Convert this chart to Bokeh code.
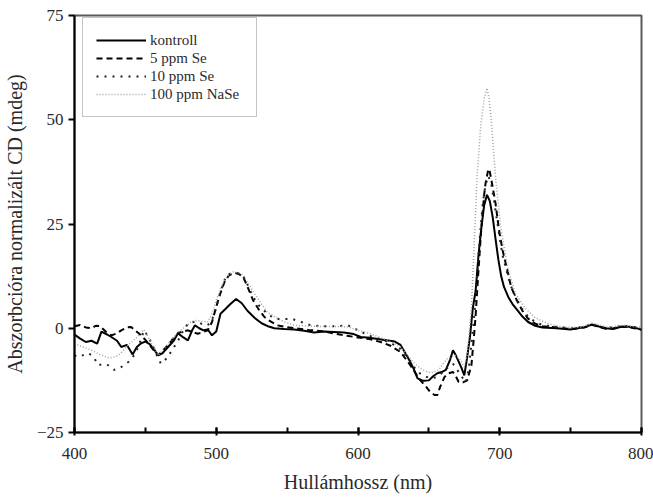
from bokeh.plotting import figure
from bokeh.models import Legend, LegendItem, SingleIntervalTicker, Range1d
from bokeh.embed import file_html
from bokeh.resources import INLINE

# ---- data ----
wl_kontroll = [400,404,408,412,416,419,423,426,430,433,437,441,444,447,450,453,456,459,462,466,
               470,473,476,480,483,485,488,491,494,497,500,503,507,510,514,518,522,527,532,537,
               541,548,555,562,569,576,583,590,597,602,608,614,620,626,630,635,639,642,646,650,
               653,656,659,662,665,667,669,671,673,675,677,679,681,683,685,687,689,691,693,695,
               697,699,701,703,706,709,712,716,720,725,730,740,750,760,765,770,775,780,785,790,
               795,800]
cd_kontroll = [-1.5,-2.5,-3.3,-3.0,-3.7,-0.8,-1.5,-2.1,-3.0,-4.5,-4.0,-6.3,-4.5,-3.6,-3.2,-3.8,-5.0,-6.5,-6.0,-4.5,
               -3.0,-1.2,-2.0,-2.9,-0.5,0.7,0.0,-0.5,-0.3,-1.7,-0.8,3.5,4.8,5.8,7.0,6.0,4.2,2.5,1.2,0.4,
               0.0,-0.2,-0.3,-0.6,-1.0,-0.8,-0.9,-1.0,-1.4,-2.1,-2.3,-2.6,-2.9,-3.2,-4.0,-6.9,-9.5,-12.0,-12.6,-12.5,
               -11.5,-10.8,-10.5,-10.0,-7.5,-5.3,-6.5,-8.0,-9.5,-11.3,-7.0,-2.0,4.8,9.0,17.5,24.0,29.5,32.0,30.5,26.7,
               21.5,16.5,12.5,9.9,7.5,5.8,4.5,2.8,1.5,0.6,0.2,0.0,-0.3,0.3,0.9,0.4,0.0,-0.2,0.3,0.4,
               0.2,-0.4]

wl_5ppm = [400,404,408,412,415,418,422,426,430,433,437,440,443,447,450,453,456,459,462,466,
           470,473,476,480,484,487,490,494,497,499,502,505.7,509,513,516,519,522,526,530,534,
           538,543,549,555,565,575,590,600,608,616,623,630,637,641,644,648,651,654,656,658,
           661,664,667,669,671,674,677,680,682,683,685,687,689,690,692,693,695,697,699.5,702,
           705.4,708,712,716,720,725,730,740,750,760,765,770,775,780,785,790,795,800]
cd_5ppm = [0.5,0.8,0.2,0.0,0.6,0.5,-0.8,-1.7,-1.2,-0.5,0.2,0.3,-0.6,-1.7,-2.8,-4.0,-5.3,-6.5,-5.5,-4.0,
           -2.3,-1.2,-0.8,-0.5,-1.0,-1.3,-1.0,-0.5,1.5,3.9,7.5,11.0,12.7,13.3,13.0,12.3,10.0,6.7,4.5,2.7,
           1.7,0.7,0.3,0.0,-0.4,-0.7,-1.7,-2.2,-2.6,-3.3,-4.2,-5.7,-8.9,-11.0,-12.5,-14.0,-15.3,-16.0,-16.0,-14.0,
           -11.7,-10.8,-10.5,-11.5,-12.9,-13.0,-12.5,-8.9,-1.2,3.1,14.0,24.0,32.0,34.8,38.2,37.5,33.9,30.0,23.5,18.7,
           13.9,9.9,6.7,4.2,2.3,1.1,0.5,0.2,-0.2,0.2,0.8,0.3,-0.1,0.0,0.4,0.3,0.0,-0.3]

wl_10ppm = [400,403,407,410,413,417,420,424,428,433,438,442,445,449,452,455,458,461,466,469,
            472,476,480,484,487,490,494,497,499,502,505.7,509,513,516,519,522,526,530,536,540,
            545,553,560,566,573,586,593,600,608,616,623,630,637,642,647,651,655,659,663,667,
            670,673,676,678,680,682,684,686,688,690,692,694,696,698,700,702,705,708,712,716,
            720,725,730,740,750,760,765,770,775,780,785,790,795,800]
cd_10ppm = [-6.5,-6.9,-6.3,-6.0,-6.7,-8.9,-8.5,-8.9,-10.0,-9.3,-8.1,-6.5,-4.5,-0.5,-2.0,-4.0,-6.5,-8.5,-6.9,-5.0,
            -3.7,-1.0,1.1,1.5,1.5,1.0,0.7,2.0,3.9,7.5,11.5,13.0,13.3,13.2,12.5,10.5,7.5,5.5,3.5,2.6,
            2.1,2.3,1.5,0.8,0.5,0.5,0.7,-0.5,-1.8,-2.6,-3.5,-5.0,-8.0,-10.5,-11.5,-12.0,-11.8,-10.8,-9.5,-8.5,
            -10.0,-11.5,-13.0,-10.0,-4.0,3.0,12.0,22.0,30.0,34.5,36.5,34.5,30.5,26.0,21.5,17.5,13.5,10.0,7.0,4.5,
            2.8,1.5,0.8,0.3,0.0,0.4,1.0,0.5,0.1,0.2,0.6,0.5,0.3,0.0]

wl_100ppm = [400,406,412,418,424,427,431,434,438,442,446,449,453,456,459,463,468,473,478,482,
             485,489,494,497,500,503,506,509,512,516,519,523,527,532,536,541,546,550,555,565,
             575,585,593,600,608,616,623,630,635,640,645,649,653,657,660,663,666,669,672,675,
             677,678,680,682,684,686.5,689,691,692.5,694,697,700.7,705.4,711,718,725,735,745,755,760,
             765,770,775,780,785,790,795,800]
cd_100ppm = [-3.7,-4.5,-5.3,-6.3,-7.1,-7.0,-6.5,-5.5,-4.0,-2.8,-1.5,-0.3,-2.9,-4.5,-6.5,-5.0,-2.9,-1.0,0.3,1.5,
             1.9,1.7,1.5,3.5,6.7,9.5,11.5,12.8,13.5,13.3,12.7,10.5,8.3,5.8,3.9,2.8,1.9,1.3,0.7,0.5,
             0.4,0.4,0.3,-0.5,-1.2,-2.3,-3.2,-4.5,-6.5,-8.5,-9.8,-10.5,-10.6,-10.0,-8.5,-7.3,-6.8,-6.5,-7.5,-9.3,
             -6.5,-2.9,4.8,20.3,36.3,48.3,55.0,57.6,55.0,50.0,36.3,24.3,14.7,8.3,4.8,2.5,1.0,0.3,0.2,0.5,
             1.2,0.8,0.4,0.3,0.7,0.6,0.4,0.2]

series_names = ["kontroll", "5 ppm Se", "10 ppm Se", "100 ppm NaSe"]
x_ticks_interval = 100
y_ticks_interval = 25

FONT = "Liberation Serif"

p = figure(width=653, height=498, output_backend="svg", toolbar_location=None,
           x_range=Range1d(400, 800), y_range=Range1d(-25, 75),
           min_border_left=72, min_border_right=12, min_border_top=15, min_border_bottom=66,
           background_fill_color="white", border_fill_color="white")

p.xgrid.visible = False
p.ygrid.visible = False
p.outline_line_color = "#5a5a5a"
p.outline_line_width = 2

r_k = p.line(wl_kontroll, cd_kontroll, line_color="black", line_width=2)
r_5 = p.line(wl_5ppm, cd_5ppm, line_color="black", line_width=2, line_dash="6 4")
r_10 = p.line(wl_10ppm, cd_10ppm, line_color="#222222", line_width=2, line_dash="2 6")
r_100 = p.line(wl_100ppm, cd_100ppm, line_color="#a0a0a0", line_width=1.5, line_dash="1 2")

# axes
p.xaxis.ticker = SingleIntervalTicker(interval=x_ticks_interval, num_minor_ticks=2)
p.yaxis.ticker = SingleIntervalTicker(interval=y_ticks_interval, num_minor_ticks=0)

for ax in (p.xaxis[0], p.yaxis[0]):
    ax.axis_line_color = "black"
    ax.axis_line_width = 2
    ax.major_tick_line_color = "black"
    ax.major_tick_line_width = 2
    ax.minor_tick_line_color = "black"
    ax.minor_tick_line_width = 2
    ax.major_label_text_font = FONT
    ax.major_label_text_font_size = "17px"
    ax.major_label_text_color = "#2a2a2a"
    ax.axis_label_text_font = FONT
    ax.axis_label_text_font_size = "20px"
    ax.axis_label_text_font_style = "normal"
    ax.axis_label_text_color = "#2a2a2a"

p.xaxis.axis_label = "Hullámhossz (nm)"
p.xaxis.major_tick_in = 5
p.xaxis.major_tick_out = 3
p.xaxis.minor_tick_in = 5
p.xaxis.minor_tick_out = 0
p.xaxis.major_label_standoff = 12
p.xaxis.axis_label_standoff = 9

p.yaxis.axis_label = "Abszorbcióra normalizált CD (mdeg)"
p.yaxis.major_tick_in = 0
p.yaxis.major_tick_out = 6
p.yaxis.major_label_standoff = 5
p.yaxis.axis_label_standoff = 8

legend = Legend(items=[
    LegendItem(label=series_names[0], renderers=[r_k]),
    LegendItem(label=series_names[1], renderers=[r_5]),
    LegendItem(label=series_names[2], renderers=[r_10]),
    LegendItem(label=series_names[3], renderers=[r_100]),
], location=(8, 315))
legend.margin = 0
legend.padding = 13
legend.spacing = 0
legend.label_height = 18
legend.glyph_height = 18
legend.glyph_width = 50
legend.label_standoff = 4
legend.label_width = 93
legend.label_text_font = FONT
legend.label_text_font_size = "15px"
legend.label_text_color = "#2a2a2a"
legend.border_line_color = "#8a8a8a"
legend.border_line_width = 1.5
legend.background_fill_color = "white"
legend.background_fill_alpha = 1.0
p.add_layout(legend, "center")

open("out.html", "w").write(file_html(p, INLINE))
